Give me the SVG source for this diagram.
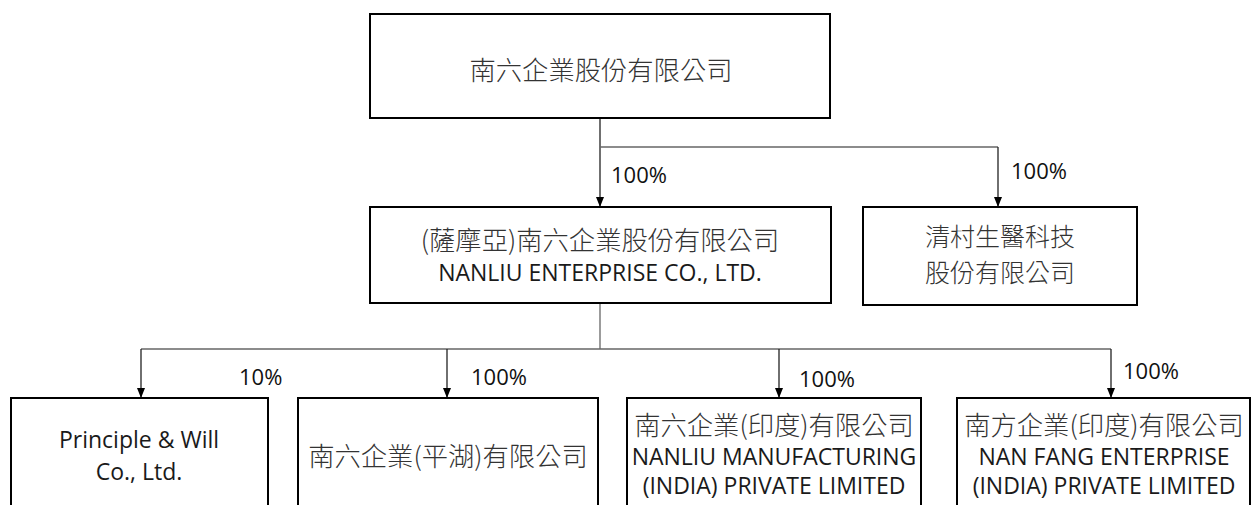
<svg xmlns="http://www.w3.org/2000/svg" width="1254" height="505" viewBox="0 0 1254 505">
<defs>
<marker id="arr" markerWidth="10" markerHeight="10" refX="9" refY="5" orient="auto" markerUnits="userSpaceOnUse">
<path d="M0,1 L10,5 L0,9 Z" fill="#000"/>
</marker>
<style>
.box{fill:#fff;stroke:#000;stroke-width:2}
.t{font-family:"Open Sans","Noto Sans CJK TC",sans-serif;font-size:23px;font-weight:400;fill:#1a1a1a;text-anchor:middle}
.c{font-family:"Noto Sans CJK TC",sans-serif;font-size:26.3px;font-weight:300;fill:#333;text-anchor:middle}
.c2{font-size:25px}
.lbl{font-family:"Open Sans",sans-serif;font-size:22px;fill:#111}
.ln{fill:none;stroke:#666;stroke-width:1.3}
.ar{fill:none;stroke:#222;stroke-width:1.3;marker-end:url(#arr)}
</style>
</defs>
<rect width="1254" height="505" fill="#fff"/>
<g id="connectors">
<line class="ar" x1="600" y1="118" x2="600" y2="206"/>
<line class="ln" x1="600" y1="147" x2="998" y2="147"/>
<line class="ar" x1="998" y1="147" x2="998" y2="206"/>
<line class="ln" x1="600" y1="303" x2="600" y2="349"/>
<line class="ln" x1="141" y1="349" x2="1111" y2="349"/>
<line class="ar" x1="141" y1="349" x2="141" y2="397"/>
<line class="ar" x1="447" y1="349" x2="447" y2="397"/>
<line class="ar" x1="779" y1="349" x2="779" y2="397"/>
<line class="ar" x1="1111" y1="349" x2="1111" y2="397"/>
<text class="lbl" x="611" y="183">100%</text>
<text class="lbl" x="1011" y="179">100%</text>
<text class="lbl" x="239" y="385">10%</text>
<text class="lbl" x="471" y="385">100%</text>
<text class="lbl" x="799" y="387">100%</text>
<text class="lbl" x="1123" y="379">100%</text>
</g>
<g id="n-top">
<rect class="box" x="370" y="14" width="460" height="104"/>
<text class="c" x="601" y="80">南六企業股份有限公司</text>
</g>
<g id="n-samoa">
<rect class="box" x="370" y="207" width="461" height="96"/>
<text class="c" x="600" y="250">(薩摩亞)南六企業股份有限公司</text>
<text class="t" x="600" y="281">NANLIU ENTERPRISE CO., LTD.</text>
</g>
<g id="n-qingcun">
<rect class="box" x="863" y="207" width="274" height="98"/>
<text class="c c2" x="1000" y="246">清村生醫科技</text>
<text class="c c2" x="1000" y="282">股份有限公司</text>
</g>
<g id="n-principle">
<rect class="box" x="11" y="398" width="257" height="120"/>
<text class="t" x="139" y="448">Principle &amp; Will<tspan x="139" y="480">Co., Ltd.</tspan></text>
</g>
<g id="n-pinghu">
<rect class="box" x="298" y="398" width="300" height="120"/>
<text class="c" x="448" y="466">南六企業(平湖)有限公司</text>
</g>
<g id="n-india1">
<rect class="box" x="627" y="398" width="294" height="120"/>
<text class="c" x="774" y="435">南六企業(印度)有限公司</text>
<text class="t" x="774" y="465">NANLIU MANUFACTURING<tspan x="774" y="494">(INDIA) PRIVATE LIMITED</tspan></text>
</g>
<g id="n-india2">
<rect class="box" x="957" y="398" width="293" height="120"/>
<text class="c" x="1104" y="435">南方企業(印度)有限公司</text>
<text class="t" x="1104" y="465">NAN FANG ENTERPRISE<tspan x="1104" y="494">(INDIA) PRIVATE LIMITED</tspan></text>
</g>
</svg>
